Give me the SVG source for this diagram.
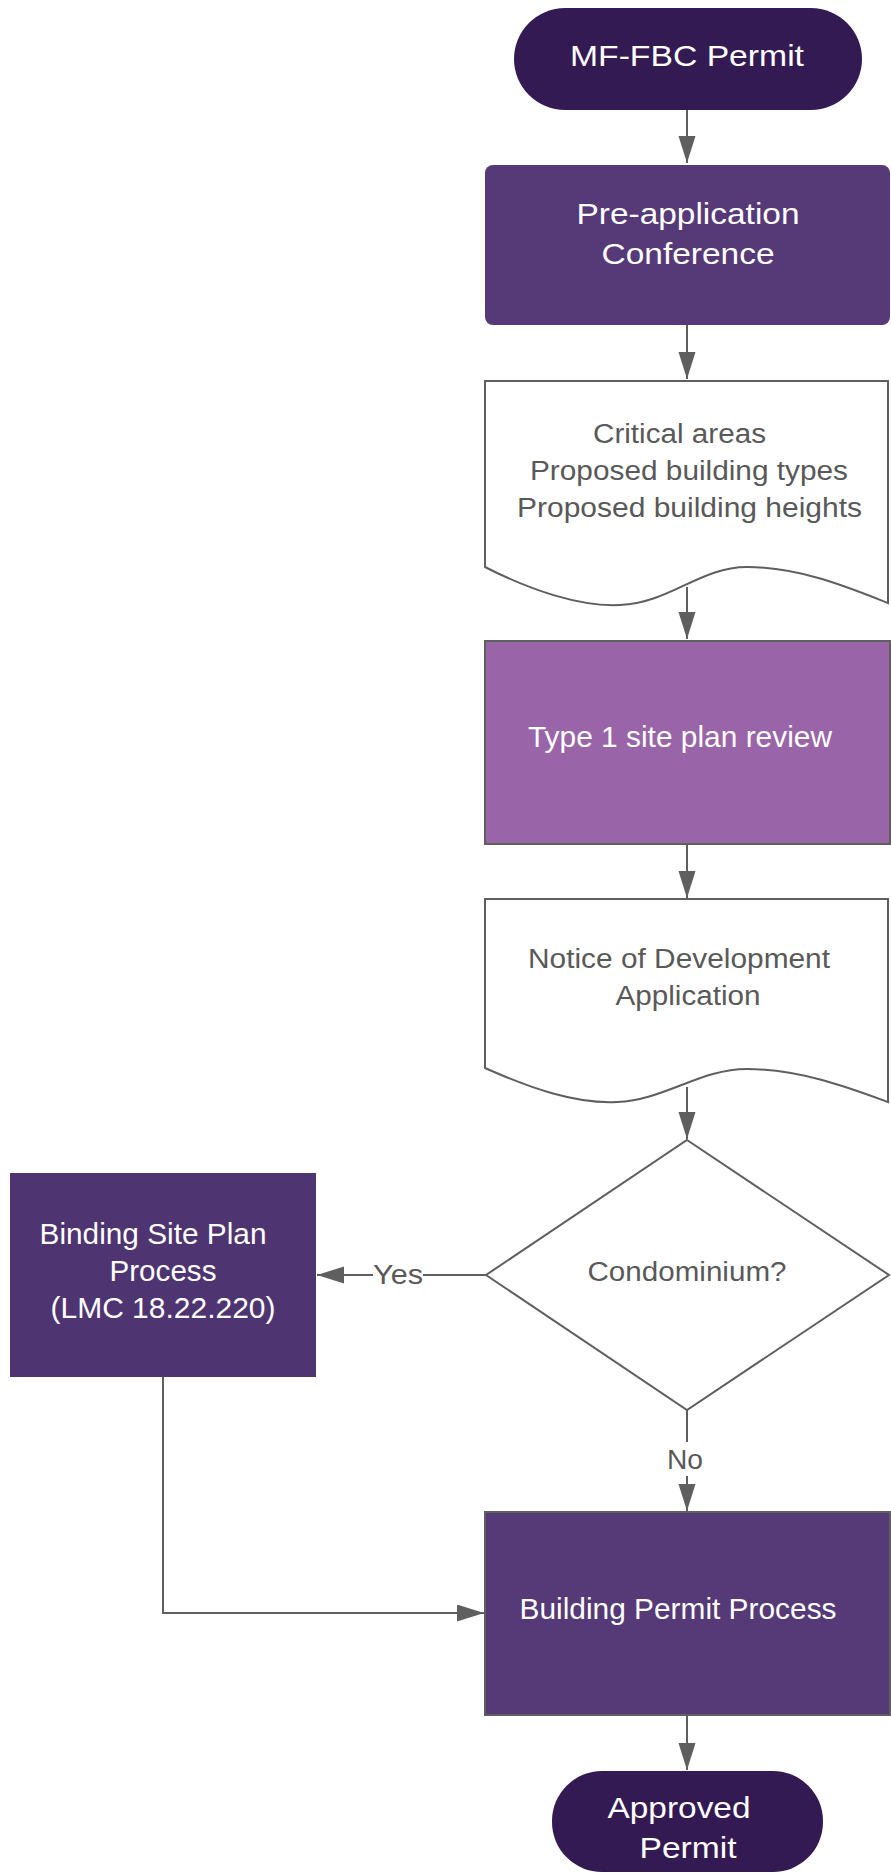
<svg xmlns="http://www.w3.org/2000/svg" width="891" height="1874" viewBox="0 0 891 1874">
<style>
text{font-family:"Liberation Sans",Arial,sans-serif;text-anchor:middle}
.w{fill:#ffffff;font-size:30px}
.g{fill:#595959;font-size:27px}
.ln{fill:none;stroke:#5f5f5f;stroke-width:2}
.doc{fill:#ffffff;stroke:#5f5f5f;stroke-width:2}
</style>
<defs>
<marker id="ah" markerUnits="userSpaceOnUse" markerWidth="28" markerHeight="18" refX="27" refY="8.5" orient="auto">
<path d="M0,0 L27,8.5 L0,17 Z" fill="#5f5f5f"/>
</marker>
</defs>
<rect width="891" height="1874" fill="#ffffff"/>
<g id="connectors">
<path class="ln" d="M687,110 V163" marker-end="url(#ah)"/>
<path class="ln" d="M687,325 V379" marker-end="url(#ah)"/>
<path class="ln" d="M687,587 V639" marker-end="url(#ah)"/>
<path class="ln" d="M687,844 V898" marker-end="url(#ah)"/>
<path class="ln" d="M687,1087 V1139" marker-end="url(#ah)"/>
<path class="ln" d="M486,1275 H317" marker-end="url(#ah)"/>
<rect x="373" y="1260" width="50" height="30" fill="#ffffff"/>
<text class="g" x="398" y="1284" textLength="50" lengthAdjust="spacingAndGlyphs">Yes</text>
<path class="ln" d="M687,1410 V1511" marker-end="url(#ah)"/>
<rect x="665" y="1442" width="42" height="34" fill="#ffffff"/>
<text class="g" x="685" y="1469" textLength="36" lengthAdjust="spacingAndGlyphs">No</text>
<path class="ln" d="M163,1377 V1613 H484" marker-end="url(#ah)"/>
<path class="ln" d="M687,1715 V1770" marker-end="url(#ah)"/>
</g>
<g id="start">
<rect x="514" y="8" width="348" height="102" rx="51" fill="#341a52"/>
<text class="w" x="687" y="66" textLength="234" lengthAdjust="spacingAndGlyphs">MF-FBC Permit</text>
</g>
<g id="preapp">
<rect x="485" y="165" width="405" height="160" rx="8" fill="#563a78"/>
<text class="w" x="688" y="224" textLength="223" lengthAdjust="spacingAndGlyphs">Pre-application</text>
<text class="w" x="688" y="264" textLength="173" lengthAdjust="spacingAndGlyphs">Conference</text>
</g>
<g id="doc1">
<path class="doc" d="M485,381 H888 V603 C850,588 800,567 747,567 C700,567 670,603 620,605 C580,607 530,590 485,567 Z"/>
<text class="g" x="679.5" y="443" textLength="173" lengthAdjust="spacingAndGlyphs">Critical areas</text>
<text class="g" x="689" y="480" textLength="318" lengthAdjust="spacingAndGlyphs">Proposed building types</text>
<text class="g" x="689.5" y="517" textLength="345" lengthAdjust="spacingAndGlyphs">Proposed building heights</text>
</g>
<g id="type1">
<rect x="485" y="641" width="405" height="203" fill="#9964a8" stroke="#5f5f5f" stroke-width="2"/>
<text class="w" x="680" y="747" textLength="304" lengthAdjust="spacingAndGlyphs">Type 1 site plan review</text>
</g>
<g id="doc2">
<path class="doc" d="M485,899 H888 V1102 C850,1088 800,1069 747,1069 C700,1069 665,1100 617,1102 C575,1104 530,1088 485,1068 Z"/>
<text class="g" x="679" y="968" textLength="302" lengthAdjust="spacingAndGlyphs">Notice of Development</text>
<text class="g" x="688" y="1005" textLength="145" lengthAdjust="spacingAndGlyphs">Application</text>
</g>
<g id="decision">
<path class="doc" d="M687,1140 L889,1275 L687,1410 L486,1275 Z"/>
<text class="g" x="687" y="1281" textLength="199" lengthAdjust="spacingAndGlyphs">Condominium?</text>
</g>
<g id="binding">
<rect x="10" y="1173" width="306" height="204" fill="#4e3471"/>
<text class="w" x="153" y="1244" textLength="227" lengthAdjust="spacingAndGlyphs">Binding Site Plan</text>
<text class="w" x="163" y="1281" textLength="107" lengthAdjust="spacingAndGlyphs">Process</text>
<text class="w" x="163" y="1318" textLength="225" lengthAdjust="spacingAndGlyphs">(LMC 18.22.220)</text>
</g>
<g id="building">
<rect x="485" y="1512" width="405" height="203" fill="#553a77" stroke="#5f5f5f" stroke-width="2"/>
<text class="w" x="678" y="1619" textLength="317" lengthAdjust="spacingAndGlyphs">Building Permit Process</text>
</g>
<g id="end">
<rect x="552" y="1771" width="271" height="101" rx="50" fill="#341a52"/>
<text class="w" x="679" y="1818" textLength="143" lengthAdjust="spacingAndGlyphs">Approved</text>
<text class="w" x="688" y="1858" textLength="97" lengthAdjust="spacingAndGlyphs">Permit</text>
</g>
</svg>
